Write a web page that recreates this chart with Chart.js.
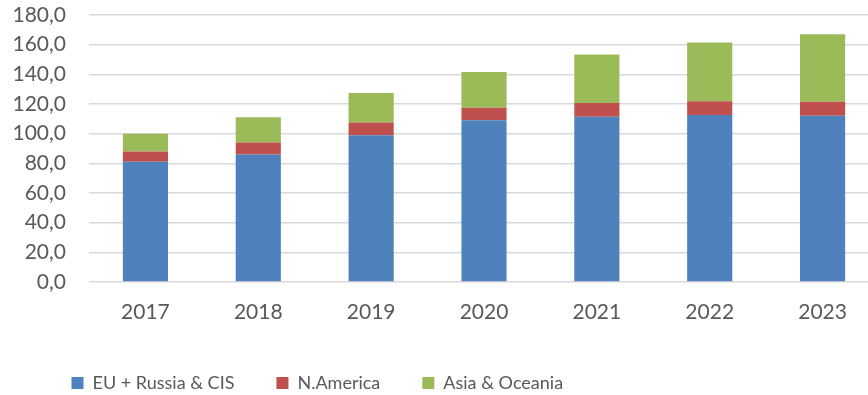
<!DOCTYPE html>
<html>
<head>
<meta charset="utf-8">
<script src="https://cdn.jsdelivr.net/npm/chart.js@4/dist/chart.umd.min.js"></script>
<style>
  html, body { margin: 0; padding: 0; background: #fff; overflow: hidden; }
  #wrap { width: 880px; height: 402px; position: relative; }
</style>
</head>
<body>
<div id="wrap"><canvas id="myChart"></canvas></div>
<script>
const years = ['2017', '2018', '2019', '2020', '2021', '2022', '2023'];
const euRussiaCis = [81.0, 86.0, 99.0, 109.0, 111.4, 112.6, 112.1];
const nAmerica = [7.0, 8.0, 8.5, 8.5, 9.3, 9.2, 9.4];
const asiaOceania = [12.0, 17.0, 20.0, 24.0, 32.7, 39.7, 45.5];
const seriesNames = ['EU + Russia & CIS', 'N.America', 'Asia & Oceania'];
const colors = ['#4f81bd', '#c0504d', '#9bbb59'];

const txt = '#595959';
const fnt = { family: 'Lato', size: 21 };

// move the legend block sideways after layout (y labels need the left space)
const legendShift = {
    id: 'legendShift',
    afterLayout(chart) {
        chart.legend.left = 29.5;
    }
};

const ctx = document.getElementById('myChart').getContext('2d');
const myChart = new Chart(ctx, {
    type: 'bar',
    data: {
        labels: years,
        datasets: [euRussiaCis, nAmerica, asiaOceania].map((vals, i) => ({
            label: seriesNames[i],
            data: vals,
            backgroundColor: colors[i],
            borderWidth: 0,
            categoryPercentage: 1,
            barPercentage: 0.4
        }))
    },
    plugins: [legendShift],
    options: {
        animation: false,
        responsive: true,
        maintainAspectRatio: false,
        layout: {
            padding: { left: 0, right: 1, top: 15, bottom: 0 }
        },
        plugins: {
            legend: {
                position: 'bottom',
                align: 'start',
                labels: {
                    color: txt,
                    font: { family: 'Lato', size: 18 },
                    boxWidth: 12,
                    boxHeight: 12,
                    padding: 42
                }
            },
            tooltip: { enabled: false }
        },
        scales: {
            x: {
                stacked: true,
                grid: { display: false },
                border: { display: false },
                ticks: { color: txt, font: fnt, padding: 10, maxRotation: 0 },
                afterFit: s => { s.height = 50; s.paddingLeft = 0; s.paddingRight = 0; }
            },
            y: {
                stacked: true,
                min: 0,
                max: 180,
                border: { display: false },
                grid: { color: '#d9d9d9', lineWidth: 1.5, drawTicks: false },
                ticks: {
                    stepSize: 20,
                    autoSkip: false,
                    color: txt,
                    font: fnt,
                    padding: 23,
                    callback: v => v.toFixed(1).replace('.', ',')
                },
                afterFit: s => { s.width = 89; s.paddingTop = 0; s.paddingBottom = 0; }
            }
        }
    }
});
</script>
</body>
</html>
